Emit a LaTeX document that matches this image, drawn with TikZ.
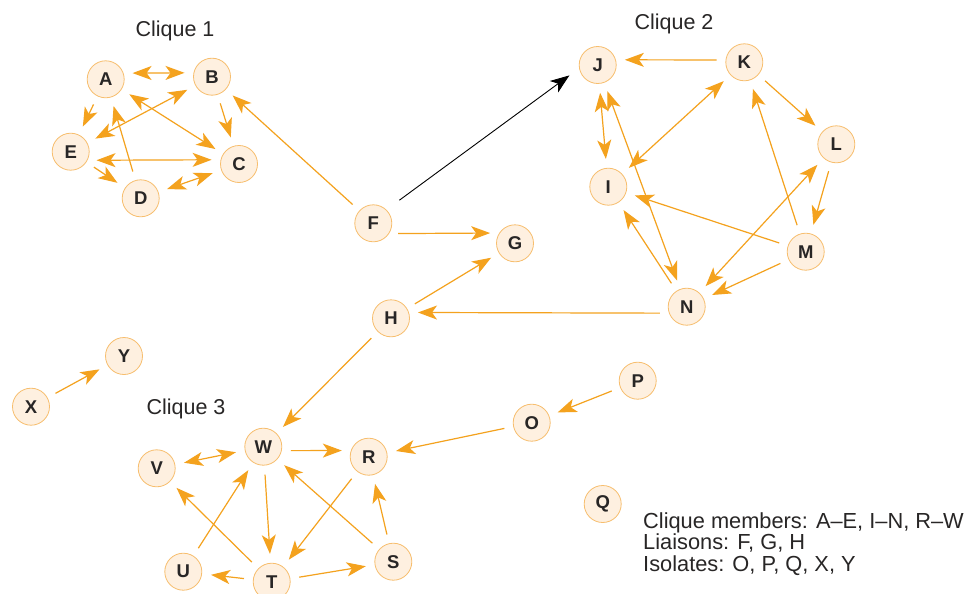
\documentclass[tikz,border=0pt]{standalone}
\usepackage{fontspec}
\setmainfont{Liberation Sans}
\usetikzlibrary{arrows.meta}
\definecolor{edgec}{RGB}{244,162,30}
\definecolor{nfill}{RGB}{254,240,224}
\definecolor{nline}{RGB}{247,190,110}
\definecolor{textgray}{RGB}{40,38,38}
\begin{document}
\begin{tikzpicture}[x=1pt,y=-1pt,
  tip/.tip={Stealth[length=19pt,width=14pt,inset=5pt]},
  person/.style={circle,minimum size=37pt,inner sep=0pt,draw=nline,fill=nfill,line width=0.8pt,
    text=textgray,font=\fontsize{18.5}{18.5}\selectfont\bfseries},
  link/.style={draw=edgec,line width=1.2pt,-tip,shorten >=9pt,shorten <=9pt},
  both/.style={link,tip-tip},
  blacklink/.style={draw=black,line width=0.9pt,-tip},
  lab/.style={inner sep=0pt,font=\fontsize{21.5}{21.5}\selectfont,text=textgray},
  leg/.style={inner sep=0pt,font=\fontsize{21.8}{21.8}\selectfont,text=textgray}
]
\useasboundingbox (0,0) rectangle (966,594);
\fill[white] (0,0) rectangle (966,594);

% labels
\node[lab,anchor=base] (c1) at (175,37) {Clique 1};
\node[lab,anchor=base] (c2) at (674,30) {Clique 2};
\node[lab,anchor=base] (c3) at (186,414) {Clique 3};

% clique 1
\node[person] (A) at (105.7,79.3) {A};
\node[person] (B) at (212,76.7) {B};
\node[person] (C) at (239,164) {C};
\node[person] (D) at (140.7,198.3) {D};
\node[person] (E) at (70.7,151.7) {E};
% liaisons
\node[person] (F) at (373.3,223.3) {F};
\node[person] (G) at (515,243.3) {G};
\node[person] (H) at (391,318.3) {H};
% clique 2
\node[person] (I) at (608.3,186.7) {I};
\node[person] (J) at (597.7,65) {J};
\node[person] (K) at (744.3,62.3) {K};
\node[person] (L) at (836.3,144.3) {L};
\node[person] (M) at (805.7,251.7) {M};
\node[person] (N) at (686.7,306.7) {N};
% isolates
\node[person] (O) at (531.7,422.7) {O};
\node[person] (P) at (637.7,380.7) {P};
\node[person] (Q) at (602.7,504) {Q};
\node[person] (X) at (31,406.7) {X};
\node[person] (Y) at (124,356) {Y};
% clique 3
\node[person] (R) at (368.7,456.7) {R};
\node[person] (S) at (393.3,561.7) {S};
\node[person] (T) at (271.7,581.7) {T};
\node[person] (U) at (183.3,571.7) {U};
\node[person] (V) at (156.7,468.3) {V};
\node[person] (W) at (263.3,446.7) {W};

% clique 1 edges
\draw[both] (A.19) -- (B.168);
\draw[link] (A) -- (E);
\draw[link] (B) -- (C);
\draw[both] (E) -- (B);
\draw[both] (A) -- (C);
\draw[both] (E.-27) -- (C.167);
\draw[link] (D) -- (A);
\draw[link] (E) -- (D);
\draw[both] (D) -- (C);
% liaisons
\draw[link] (F) -- (B);
\draw[blacklink,shorten <=16pt,shorten >=12pt] (F.46) -- (J.190);
\draw[link] (F.-33) -- (G.147);
\draw[link] (H) -- (G);
\draw[link] (N.200) -- (H.18);
\draw[link] (H) -- (W);
% clique 2 edges
\draw[link] (K.173) -- (J.16);
\draw[both] (J) -- (I);
\draw[both] (K) -- (I);
\draw[both] (J) -- (N);
\draw[link] (K) -- (L);
\draw[link] (L) -- (M);
\draw[link] (M) -- (K);
\draw[link] (M) -- (I);
\draw[link] (N) -- (I);
\draw[both] (L) -- (N);
\draw[link] (M) -- (N);
% isolates
\draw[link] (X) -- (Y);
\draw[link] (P) -- (O);
\draw[link] (O) -- (R);
% clique 3 edges
\draw[both] (V) -- (W);
\draw[link] (W.-12) -- (R.161);
\draw[link] (W) -- (T);
\draw[link] (R) -- (T);
\draw[link] (S) -- (W);
\draw[link] (S) -- (R);
\draw[link] (T) -- (S);
\draw[link] (T) -- (U);
\draw[link] (U) -- (W);
\draw[link] (T) -- (V);

% legend
\node[leg,anchor=base west] (leg1) at (643,528) {Clique members: A–E, I–N, R–W};
\node[leg,anchor=base west] (leg2) at (643,549.5) {Liaisons: F, G, H};
\node[leg,anchor=base west] (leg3) at (643,571) {Isolates: O, P, Q, X, Y};
\end{tikzpicture}
\end{document}
